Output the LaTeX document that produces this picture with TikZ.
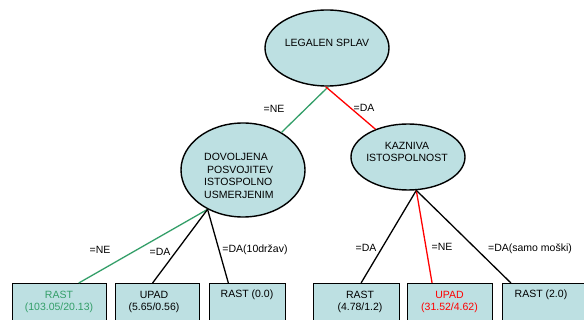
\documentclass[tikz,border=0pt]{standalone}
\usepackage{fontspec}
\setmainfont{Liberation Sans}
\usetikzlibrary{shapes.geometric,calc}
\definecolor{nodefill}{RGB}{189,224,226}
\definecolor{treegreen}{RGB}{51,158,104}
\definecolor{treered}{RGB}{255,0,0}
\tikzset{
  ell/.style={ellipse, draw=black, line width=1.4pt, fill=nodefill, inner sep=0pt},
  leafbox/.style={rectangle, draw=black, line width=1.4pt, fill=nodefill, anchor=north west, inner sep=0pt, minimum height=50pt},
  txt/.style={font=\fontsize{10.5}{12.5}\selectfont, inner sep=0pt, align=center},
  edge/.style={line width=1.3pt, draw=black},
  gedge/.style={line width=1.3pt, draw=treegreen},
  redge/.style={line width=1.3pt, draw=treered},
}
\begin{document}
\begin{tikzpicture}[x=1pt,y=-1pt]
\useasboundingbox (0,0) rectangle (584,320);
\clip (0,0) rectangle (584,320);
% ellipses
\node[ell, minimum width=124pt, minimum height=76pt] (T) at (327,48) {};
\node[txt] (Tt) at (327,43) {LEGALEN SPLAV};
\node[ell, minimum width=124pt, minimum height=94pt] (L) at (243,170) {};
\node[txt, align=left, anchor=west] (Lt) at (204,176) {DOVOLJENA\\\ POSVOJITEV\\ISTOSPOLNO\\USMERJENIM};
\node[ell, minimum width=114pt, minimum height=66pt] (R) at (408,157) {};
\node[txt] (Rt) at (407,152) {KAZNIVA\\ISTOSPOLNOST};
% leaf boxes
\node[leafbox, minimum width=94pt] (b1) at (12,283) {};
\node[leafbox, minimum width=84pt] (b2) at (115,283) {};
\node[leafbox, minimum width=76pt] (b3) at (209,283) {};
\node[leafbox, minimum width=86pt] (b4) at (313,283) {};
\node[leafbox, minimum width=85pt] (b5) at (407,283) {};
\node[leafbox, minimum width=88pt] (b6) at (502,283) {};
\node[txt, text=treegreen] (b1t) at (59,302) {RAST\\(103.05/20.13)};
\node[txt] (b2t) at (154,302) {UPAD\\(5.65/0.56)};
\node[txt] (b3t) at (247,295) {RAST (0.0)};
\node[txt] (b4t) at (360,302) {RAST\\(4.78/1.2)};
\node[txt, text=treered] (b5t) at (449.5,302) {UPAD\\(31.52/4.62)};
\node[txt] (b6t) at (541,295) {RAST (2.0)};
% connectors
\draw[gedge] (T.272) -- (L);
\draw[redge] (T.268) -- (R);
\coordinate (Lb) at (L.228);
\coordinate (Rb) at (R.284);
\draw[gedge] (Lb) -- ($(b1.north west)!0.70!(b1.north east)$);
\draw[edge] (Lb) -- ($(b2.north west)!0.44!(b2.north east)$);
\draw[edge] (Lb) -- ($(b3.north west)!0.25!(b3.north east)$);
\draw[edge] (Rb) -- ($(b4.north west)!0.55!(b4.north east)$);
\draw[redge] (Rb) -- ($(b5.north west)!0.29!(b5.north east)$);
\draw[edge] (Rb) -- ($(b6.north west)!0.10!(b6.north east)$);
% edge labels
\node[txt] (l1) at (274,109) {=NE};
\node[txt] (l2) at (364,108) {=DA};
\node[txt] (l3) at (100,250) {=NE};
\node[txt] (l4) at (160,252) {=DA};
\node[txt] (l5) at (255,250) {=DA(10držav)};
\node[txt] (l6) at (366,248) {=DA};
\node[txt] (l7) at (442,247) {=NE};
\node[txt] (l8) at (530,249) {=DA(samo moški)};
\end{tikzpicture}
\end{document}
